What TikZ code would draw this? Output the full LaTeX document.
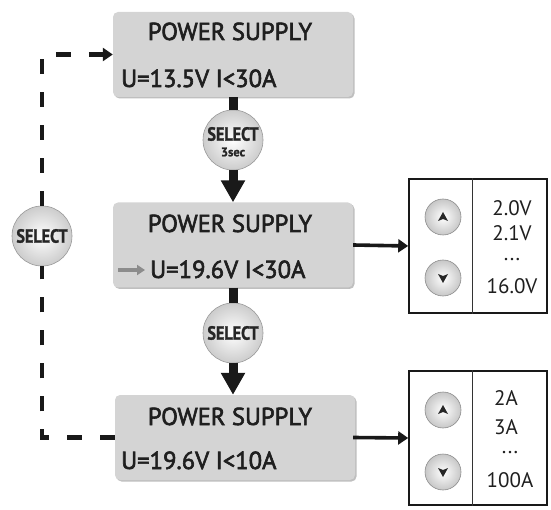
\documentclass[tikz,border=0pt]{standalone}
\usepackage{fontspec}
\setmainfont{PT Sans}
\newfontfamily\semifont{PT Sans}[FakeBold=2.5]
\newfontfamily\heavyfont{PT Sans Bold}[FakeBold=1.5]
\usetikzlibrary{arrows.meta,shadows}
\begin{document}
\begin{tikzpicture}[x=1pt,y=-1pt,
  psbox/.style={fill=black!17, rounded corners=5pt, minimum width=240pt, minimum height=85pt, inner sep=0pt,
    drop shadow={shadow xshift=1.5pt, shadow yshift=-1.5pt, opacity=0.25, fill=black}},
  pstitle/.style={font=\semifont\fontsize{24.5}{24.5}\selectfont, text=black!88, inner sep=0pt, anchor=base},
  psline/.style={font=\semifont\fontsize{24.6}{24.6}\selectfont, text=black!88, inner sep=0pt, anchor=base west},
  selbtn/.style={circle, minimum size=60pt, inner sep=0pt, shading=radial, inner color=white, outer color=black!20, draw=black!40, line width=0.6pt},
  seltext/.style={font=\heavyfont\fontsize{19}{19}\selectfont, text=black!85, inner sep=0pt},
  updn/.style={circle, minimum size=36pt, inner sep=0pt, shading=radial, inner color=white, outer color=black!22, draw=black!45, line width=0.6pt},
  valbox/.style={draw=black!90, line width=1.6pt, minimum width=138pt, minimum height=134pt, inner sep=0pt},
  valtext/.style={font=\fontsize{21}{21}\selectfont, text=black!88, inner sep=0pt},
  stem/.style={line width=9pt, black!90},
  bigarrow/.style={line width=9pt, black!90, -{Triangle[width=23pt,length=22pt]}},
  sidearrow/.style={line width=3.6pt, black!90, -{Triangle[width=13pt,length=10pt]}},
  dashline/.style={line width=4.5pt, black!90, dash pattern=on 15pt off 18pt},
  greyarrow/.style={line width=4pt, black!45, -{Triangle[width=10pt,length=8pt]}}
]
\useasboundingbox (0,0) rectangle (551,510);
% main boxes
\node[psbox] (b1) at (233,54.5) {};
\node[psbox] (b2) at (233,245) {};
\node[psbox] (b3) at (235,437.5) {};
\node[pstitle] (t1) at (230,40) {POWER SUPPLY};
\node[psline] (l1) at (121,87) {U=13.5V I<30A};
\node[pstitle] (t2) at (230,232) {POWER SUPPLY};
\node[psline] (l2) at (150,278) {U=19.6V I<30A};
\node[pstitle] (t3) at (230,425) {POWER SUPPLY};
\node[psline] (l3) at (121,469) {U=19.6V I<10A};
\coordinate (g1) at (118,270);
\coordinate (g2) at (145,270);
\draw[greyarrow] (g1) -- (g2);
% select buttons
\node[selbtn] (c1) at (233,140) {};
\node[seltext] (c1a) at (233,134) {\scalebox{0.85}[1]{SELECT}};
\node[seltext, font=\heavyfont\fontsize{12.5}{12.5}\selectfont] (c1b) at (233,152) {3sec};
\node[selbtn] (c2) at (233,333) {};
\node[seltext] (c2a) at (233,333) {\scalebox{0.85}[1]{SELECT}};
\node[selbtn] (c3) at (42,236) {};
\node[seltext] (c3a) at (42,236) {\scalebox{0.85}[1]{SELECT}};
% vertical connectors
\draw[stem] (b1.south) -- (c1.north);
\draw[bigarrow] (c1.south) -- (b2.north);
\draw[stem] (b2.south) -- (c2.north);
\draw[bigarrow] (c2.south) -- (b3.north -| c2);
% dashed return loop
\coordinate (d1) at (42,437.5);
\coordinate (d2) at (42,54.5);
\draw[dashline] (b3.west) -- (d1) -- (c3.south);
\draw[dashline, -{Triangle[width=13pt,length=10pt]}] (c3.north) -- (d2) -- (b1.west);
% value boxes
\node[valbox] (r1) at (478,246) {};
\node[valbox] (r2) at (478,438) {};
\draw[line width=1pt, black!80] (r1.north -| 472,0) -- (r1.south -| 472,0);
\draw[line width=1pt, black!80] (r2.north -| 472,0) -- (r2.south -| 472,0);
\draw[sidearrow] (b2.east) -- (r1.west);
\draw[sidearrow] (b3.east -| b2.east) -- (r2.west);
% up/down buttons
\node[updn] (u1) at (443,217) {};
\node[updn] (d1b) at (443,278) {};
\node[updn] (u2) at (443,410) {};
\node[updn] (d2b) at (443,472) {};
\foreach \n in {u1,u2} {
  \fill[black!85] ([shift={(-5,4)}]\n.center) -- ([shift={(0,-5)}]\n.center) -- ([shift={(5,4)}]\n.center) -- ([shift={(0,2)}]\n.center) -- cycle;
}
\foreach \n in {d1b,d2b} {
  \fill[black!85] ([shift={(-5,-4)}]\n.center) -- ([shift={(0,5)}]\n.center) -- ([shift={(5,-4)}]\n.center) -- ([shift={(0,-2)}]\n.center) -- cycle;
}
% values
\node[valtext] (v11) at (512,208) {2.0V};
\node[valtext] (v12) at (512,233) {2.1V};
\node[valtext] (v13) at (512,260) {...};
\node[valtext] (v14) at (512,286) {16.0V};
\node[valtext] (v21) at (506,398) {2A};
\node[valtext] (v22) at (506,427) {3A};
\node[valtext] (v23) at (510,453) {...};
\node[valtext] (v24) at (510,480) {100A};
\end{tikzpicture}
\end{document}
